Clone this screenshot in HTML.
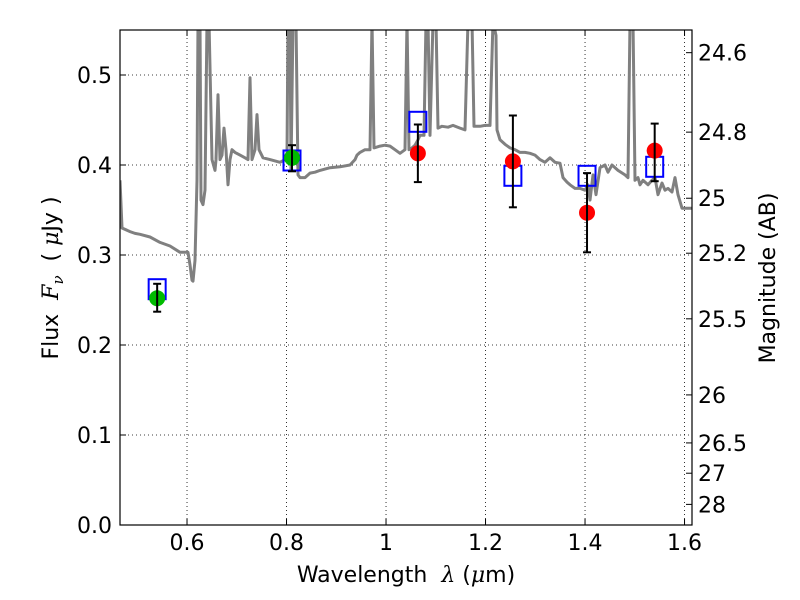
<!DOCTYPE html>
<html><head><meta charset="utf-8"><style>
body{margin:0;background:#fff}
svg{display:block;font-family:"DejaVu Sans","Liberation Sans",sans-serif}
</style></head><body>
<svg id="c" width="800" height="600" viewBox="0 0 800 600"></svg>
<script>
const specLam=[0.4653,0.4693,0.4854,0.4955,0.5055,0.5256,0.5457,0.5658,0.5859,0.5960,0.6020,0.6060,0.6100,0.6120,0.6161,0.6201,0.6221,0.6261,0.6281,0.6321,0.6362,0.6402,0.6442,0.6502,0.6563,0.6583,0.6623,0.6663,0.6703,0.6743,0.6784,0.6824,0.6864,0.6904,0.6965,0.7065,0.7166,0.7226,0.7266,0.7306,0.7367,0.7407,0.7447,0.7527,0.7668,0.7869,0.7970,0.8010,0.8030,0.8070,0.8090,0.8130,0.8191,0.8231,0.8271,0.8372,0.8472,0.8573,0.8673,0.8874,0.9075,0.9276,0.9377,0.9417,0.9477,0.9578,0.9678,0.9718,0.9758,0.9879,0.9980,1.0080,1.0181,1.0281,1.0382,1.0422,1.0462,1.0522,1.0583,1.0643,1.0683,1.0763,1.0804,1.0844,1.0884,1.0944,1.1005,1.1045,1.1125,1.1246,1.1346,1.1487,1.1588,1.1648,1.1688,1.1728,1.1768,1.1889,1.1990,1.2090,1.2151,1.2211,1.2231,1.2291,1.2392,1.2492,1.2593,1.2693,1.2794,1.2894,1.2995,1.3095,1.3196,1.3296,1.3397,1.3497,1.3557,1.3638,1.3698,1.3799,1.3899,1.4000,1.4060,1.4100,1.4160,1.4221,1.4301,1.4402,1.4462,1.4542,1.4663,1.4804,1.4864,1.4904,1.4964,1.5005,1.5065,1.5105,1.5165,1.5266,1.5346,1.5407,1.5467,1.5547,1.5608,1.5668,1.5748,1.5808,1.5869,1.5949,1.6110,1.6150];
const specFlux=[0.383,0.330,0.326,0.324,0.323,0.320,0.314,0.310,0.303,0.303,0.303,0.289,0.272,0.271,0.294,0.383,0.56,0.56,0.361,0.356,0.372,0.56,0.56,0.406,0.394,0.406,0.478,0.406,0.411,0.441,0.417,0.378,0.406,0.417,0.414,0.411,0.408,0.406,0.497,0.406,0.417,0.456,0.417,0.408,0.406,0.403,0.406,0.411,0.56,0.56,0.394,0.56,0.56,0.389,0.386,0.386,0.391,0.392,0.394,0.397,0.398,0.400,0.406,0.411,0.414,0.417,0.417,0.56,0.419,0.421,0.422,0.421,0.417,0.413,0.417,0.56,0.417,0.419,0.422,0.428,0.433,0.433,0.56,0.56,0.433,0.56,0.56,0.441,0.443,0.442,0.444,0.441,0.439,0.56,0.56,0.56,0.443,0.443,0.444,0.444,0.56,0.544,0.439,0.428,0.423,0.419,0.417,0.414,0.414,0.413,0.411,0.406,0.403,0.408,0.403,0.402,0.386,0.381,0.378,0.374,0.374,0.372,0.378,0.361,0.389,0.367,0.397,0.400,0.392,0.400,0.394,0.389,0.386,0.56,0.56,0.383,0.386,0.378,0.383,0.378,0.383,0.386,0.367,0.380,0.372,0.374,0.370,0.386,0.367,0.352,0.352,0.352];
const photLam=[0.540,0.811,1.064,1.255,1.404,1.540];
const photFlux=[0.252,0.408,0.413,0.404,0.347,0.416];
const photErrLo=[0.237,0.393,0.381,0.353,0.303,0.382];
const photErrHi=[0.268,0.422,0.445,0.455,0.391,0.446];
const modelFlux=[0.262,0.405,0.448,0.388,0.388,0.398];
const photColors=['#00bb00','#00bb00','red','red','red','red'];
const xTicks=[0.6,0.8,1.0,1.2,1.4,1.6];
const xTickLabels=['0.6','0.8','1','1.2','1.4','1.6'];
const yTicks=[0,0.1,0.2,0.3,0.4,0.5];
const yTickLabels=['0.0','0.1','0.2','0.3','0.4','0.5'];
const magTicks=[24.6,24.8,25,25.2,25.5,26,26.5,27,28];
const magTickLabels=['24.6','24.8','25','25.2','25.5','26','26.5','27','28'];

const L=120,R=692,T=30,B=525,xmin=0.4653,xmax=1.615,ymin=0,ymax=0.55;
const X=v=>L+(v-xmin)/(xmax-xmin)*(R-L);
const Y=v=>B-(v-ymin)/(ymax-ymin)*(B-T);
const NS='http://www.w3.org/2000/svg';
const svg=document.getElementById('c');
function mk(tag,attrs,parent){const e=document.createElementNS(NS,tag);for(const k in attrs)e.setAttribute(k,attrs[k]);(parent||svg).appendChild(e);return e;}

const defs=mk('defs',{});const cp=mk('clipPath',{id:'clip'},defs);mk('rect',{x:L,y:T,width:R-L,height:B-T},cp);

xTicks.forEach(t=>{const g=mk('line',{x1:X(t),x2:X(t),y1:T,y2:B,stroke:'#000','stroke-width':0.8,'stroke-dasharray':'1,3'});

});
yTicks.forEach(t=>{const g=mk('line',{x1:L,x2:R,y1:Y(t),y2:Y(t),stroke:'#000','stroke-width':0.8,'stroke-dasharray':'1,3'});

});

const pts=specLam.map((l,i)=>X(l).toFixed(1)+','+Y(specFlux[i]).toFixed(1)).join(' ');
const sp=mk('polyline',{points:pts,fill:'none',stroke:'#808080','stroke-width':3,'clip-path':'url(#clip)','stroke-linejoin':'round'});



photLam.forEach((l,i)=>{const r=mk('rect',{x:X(l)-8.5,y:Y(modelFlux[i])-10,width:17,height:20,fill:'none',stroke:'#0000ff','stroke-width':2});

});
photLam.forEach((l,i)=>{const x=X(l);
const c=mk('circle',{cx:x,cy:Y(photFlux[i]),r:8,fill:photColors[i]});


const g=mk('g',{stroke:'#000','stroke-width':2});


mk('line',{x1:x,x2:x,y1:Y(photErrLo[i]),y2:Y(photErrHi[i])},g);
mk('line',{x1:x-4,x2:x+4,y1:Y(photErrLo[i]),y2:Y(photErrLo[i])},g);
mk('line',{x1:x-4,x2:x+4,y1:Y(photErrHi[i]),y2:Y(photErrHi[i])},g);});

const fr=mk('rect',{x:L,y:T,width:R-L,height:B-T,fill:'none',stroke:'#000','stroke-width':1.2});



xTicks.forEach((t,i)=>{const x=X(t);mk('line',{x1:x,x2:x,y1:B,y2:B-6,stroke:'#000'});mk('line',{x1:x,x2:x,y1:T,y2:T+6,stroke:'#000'});
const tx=mk('text',{x:x,y:B+25,'text-anchor':'middle','font-size':22});tx.textContent=xTickLabels[i];

});
yTicks.forEach((t,i)=>{const y=Y(t);mk('line',{x1:L,x2:L+6,y1:y,y2:y,stroke:'#000'});
const tx=mk('text',{x:L-8,y:y+8,'text-anchor':'end','font-size':22});tx.textContent=yTickLabels[i];

});
magTicks.forEach((m,i)=>{const y=Y(Math.pow(10,(23.9-m)/2.5));mk('line',{x1:R,x2:R-6,y1:y,y2:y,stroke:'#000'});
const tx=mk('text',{x:R+6,y:y+8,'font-size':22});tx.textContent=magTickLabels[i];

});
</script>
<svg width="800" height="600" style="position:absolute;left:0;top:0">
<text x="406" y="582" text-anchor="middle" font-size="22" font-family="DejaVu Sans,sans-serif">Wavelength&#160;&#160;<tspan font-style="italic" font-family="DejaVu Serif,serif">λ</tspan> (<tspan font-style="italic" font-family="DejaVu Serif,serif">μ</tspan>m)</text>
<text transform="translate(58,278) rotate(-90)" text-anchor="middle" font-size="22" font-family="DejaVu Sans,sans-serif">Flux&#160;&#160;<tspan font-style="italic" font-family="DejaVu Serif,serif">F</tspan><tspan font-style="italic" font-size="15" dy="5" font-family="DejaVu Serif,serif">ν</tspan><tspan dy="-5">&#160;&#160;(&#160;</tspan><tspan font-style="italic" font-family="DejaVu Serif,serif">μ</tspan>Jy )</text>
<text transform="translate(775,278) rotate(-90)" text-anchor="middle" font-size="22" font-family="DejaVu Sans,sans-serif">Magnitude (AB)</text>
</svg>
</body></html>
